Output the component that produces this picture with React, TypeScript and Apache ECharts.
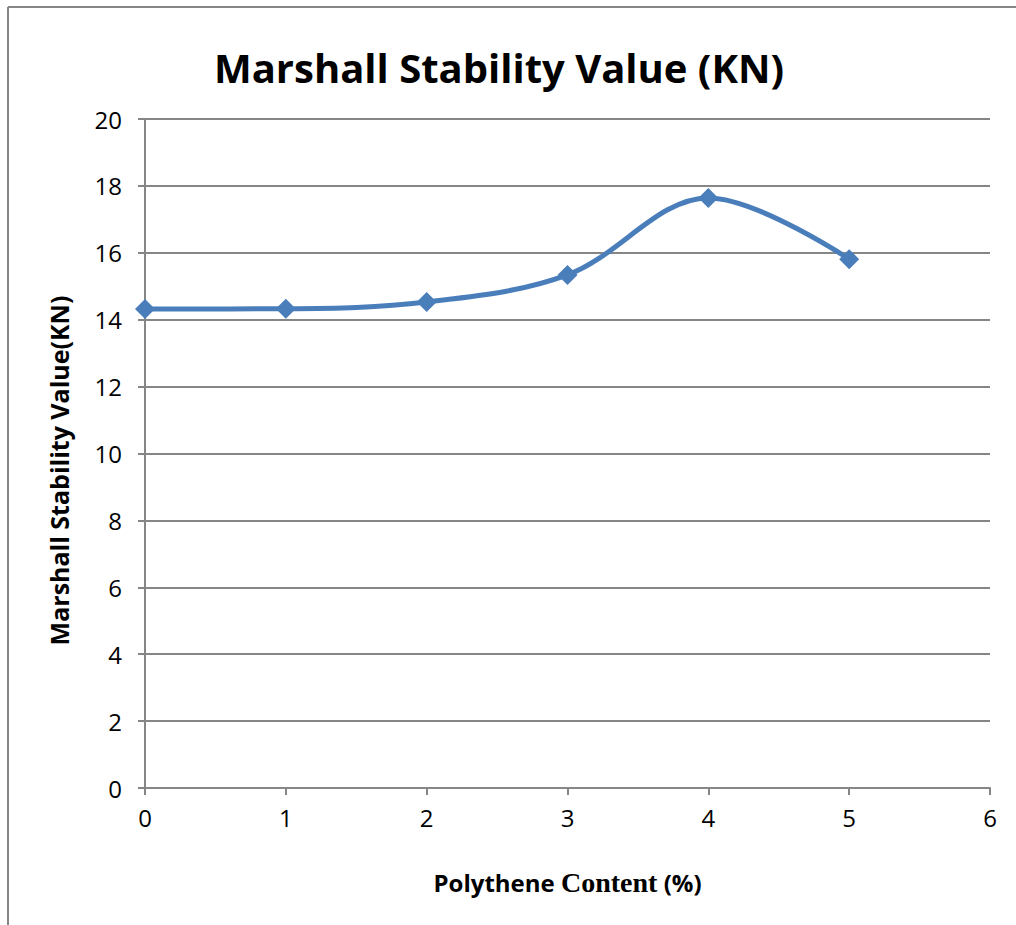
import React, { useEffect, useRef } from "react";
import * as echarts from "echarts";

const xValues = [0, 1, 2, 3, 4, 5];
const stability = [14.32, 14.33, 14.53, 15.34, 17.64, 15.81];
const titleText = "Marshall Stability Value (KN)";
const yAxisTitle = "Marshall Stability Value(KN)";

export default function App() {
  const ref = useRef<HTMLDivElement>(null);
  useEffect(() => {
    if (!ref.current) return;
    const chart = echarts.init(ref.current, undefined, { renderer: "svg" });
    const gray = "#868686";
    chart.setOption({
      animation: false,
      backgroundColor: "#ffffff",
      title: {
        text: titleText,
        left: 494,
        top: 42,
        textAlign: "center",
        textStyle: { fontFamily: "Open Sans", fontWeight: "bold", fontSize: 40, color: "#000" },
      },
      graphic: [
        { type: "line", shape: { x1: 8, y1: 7, x2: 1016, y2: 7 }, style: { stroke: gray, lineWidth: 2 } },
        { type: "line", shape: { x1: 8, y1: 7, x2: 8, y2: 925 }, style: { stroke: gray, lineWidth: 2 } },
      ],
      grid: { left: 145, top: 119, right: 26, bottom: 137, containLabel: false },
      xAxis: {
        type: "value",
        min: 0,
        max: 6,
        interval: 1,
        axisLine: { show: true, lineStyle: { color: gray, width: 2 } },
        axisTick: { show: true, length: 7, lineStyle: { color: gray, width: 2 } },
        splitLine: { show: false },
        axisLabel: { color: "#000", fontSize: 24, fontFamily: "Open Sans", margin: 17 },
        name: "{a|Polythene }{b|Content}{a| (%)}",
        nameLocation: "middle",
        nameGap: 80,
        nameTextStyle: {
          rich: {
            a: { fontFamily: "Open Sans", fontWeight: "bold", fontSize: 24, color: "#000" },
            b: { fontFamily: "Liberation Serif", fontWeight: "bold", fontSize: 28, color: "#000" },
          },
        },
      },
      yAxis: {
        type: "value",
        min: 0,
        max: 20,
        interval: 2,
        axisLine: { show: true, lineStyle: { color: gray, width: 2 } },
        axisTick: { show: true, length: 7, lineStyle: { color: gray, width: 2 } },
        splitLine: { show: true, lineStyle: { color: gray, width: 2 } },
        axisLabel: { color: "#000", fontSize: 24, fontFamily: "Open Sans", margin: 23 },
        name: yAxisTitle,
        nameLocation: "middle",
        nameGap: 74,
        nameTextStyle: {
          fontFamily: "Open Sans",
          fontWeight: "bold",
          fontSize: 25,
          color: "#000",
          padding: [0, 34, 0, 0],
        },
      },
      series: [
        {
          type: "line",
          data: xValues.map((x, i) => [x, stability[i]]),
          smooth: 0.35,
          symbol: "diamond",
          symbolSize: 20,
          itemStyle: { color: "#4a7ebb" },
          lineStyle: { color: "#4a7ebb", width: 5 },
        },
      ],
    });
    return () => chart.dispose();
  }, []);
  return <div ref={ref} style={{ position: "fixed", left: 0, top: 0, width: 1016, height: 925 }} />;
}
